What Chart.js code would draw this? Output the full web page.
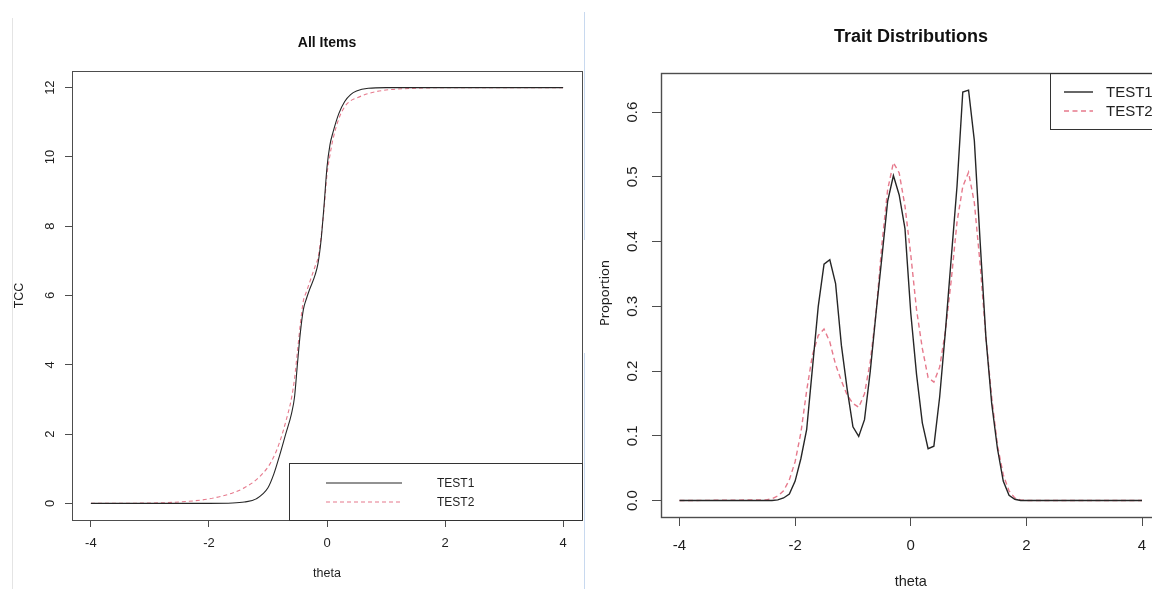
<!DOCTYPE html>
<html>
<head>
<meta charset="utf-8">
<script src="https://cdn.jsdelivr.net/npm/chart.js@4.4.0/dist/chart.umd.min.js"></script>
<style>
  html, body { margin: 0; padding: 0; background: #fff; width: 1152px; height: 589px; overflow: hidden; }
  .wrap { position: absolute; top: 0; }
  .edge { position: absolute; width: 1px; }
</style>
</head>
<body>
<div class="edge" style="left:12px;top:18px;height:571px;background:#e4e4e4"></div>
<div class="wrap" style="left:0;width:585px;height:589px"><canvas id="tcc" width="585" height="589"></canvas></div>
<div class="wrap" style="left:585px;width:600px;height:589px"><canvas id="trait" width="600" height="589"></canvas></div>
<div class="edge" style="left:584px;top:12px;height:228px;background:#c8d9ef"></div>
<div class="edge" style="left:584px;top:353px;height:236px;background:#c8d9ef"></div>
<script>
// ---- data ----
const seriesNames = ['TEST1', 'TEST2'];
const xTicks = [-4, -2, 0, 2, 4];
const tccTicks = [0, 2, 4, 6, 8, 10, 12];
const traitTicks = [0, 0.1, 0.2, 0.3, 0.4, 0.5, 0.6];

// left panel: test characteristic curves
const thetaTcc = [-4, -3, -2.5, -2, -1.6, -1.4, -1.2, -1.0, -0.9, -0.8, -0.7, -0.6, -0.55, -0.5, -0.45, -0.4, -0.35, -0.3,
  -0.2, -0.15, -0.1, -0.05, 0, 0.05, 0.1, 0.2, 0.3, 0.4, 0.5, 0.7, 1.0, 1.5, 2, 4];
const tcc1 = [0, 0, 0, 0, 0.01, 0.04, 0.13, 0.45, 0.85, 1.4, 2.0, 2.6, 3.07, 4.04, 4.95, 5.6, 5.9, 6.15,
  6.6, 6.95, 7.6, 8.6, 9.7, 10.35, 10.7, 11.25, 11.6, 11.8, 11.9, 11.98, 12, 12, 12, 12];
const tcc2 = [0, 0.01, 0.04, 0.13, 0.3, 0.45, 0.68, 1.05, 1.35, 1.78, 2.35, 3.05, 3.6, 4.4, 5.2, 5.85, 6.1, 6.35,
  6.85, 7.1, 7.7, 8.5, 9.5, 10.05, 10.5, 11.1, 11.45, 11.62, 11.7, 11.83, 11.93, 11.98, 12, 12];

// right panel: trait distributions
const thetaTrait = [-4, -2.5, -2.4, -2.3, -2.2, -2.1, -2.0, -1.9, -1.8, -1.7, -1.6, -1.5, -1.4, -1.3, -1.2, -1.1,
  -1.0, -0.9, -0.8, -0.7, -0.6, -0.5, -0.4, -0.3, -0.2, -0.1, 0.0, 0.1, 0.2, 0.3, 0.4, 0.5, 0.6, 0.7, 0.8, 0.9,
  1.0, 1.1, 1.2, 1.3, 1.4, 1.5, 1.6, 1.7, 1.8, 1.9, 2.0, 4];
const trait1 = [0, 0, 0, 0.001, 0.004, 0.010, 0.030, 0.065, 0.110, 0.205, 0.300, 0.365, 0.372, 0.335, 0.240, 0.172,
  0.114, 0.099, 0.125, 0.200, 0.290, 0.375, 0.462, 0.502, 0.472, 0.420, 0.290, 0.195, 0.120, 0.080, 0.084, 0.160,
  0.262, 0.374, 0.485, 0.631, 0.634, 0.556, 0.400, 0.252, 0.150, 0.080, 0.030, 0.008, 0.002, 0, 0, 0];
const trait2 = [0, 0.001, 0.003, 0.007, 0.015, 0.032, 0.060, 0.105, 0.170, 0.225, 0.255, 0.265, 0.245, 0.210, 0.185, 0.163,
  0.150, 0.144, 0.165, 0.215, 0.290, 0.395, 0.480, 0.522, 0.506, 0.455, 0.380, 0.295, 0.235, 0.190, 0.183, 0.206,
  0.262, 0.340, 0.430, 0.485, 0.507, 0.460, 0.365, 0.252, 0.160, 0.085, 0.040, 0.015, 0.004, 0.001, 0, 0];

const pts = (xs, ys) => xs.map((x, i) => ({ x: x, y: ys[i] }));
const FONT = '"Liberation Sans", Arial, sans-serif';
const RED = 'rgba(223, 83, 107, 0.78)';
const BLACK = '#262626';

// draws the R-style frame, rotated y labels, titles and legend
function rFrame(o) {
  return {
    id: 'rFrame',
    afterDraw(chart) {
      const { ctx, chartArea: a, scales: { x, y } } = chart;
      ctx.save();
      ctx.strokeStyle = '#4d4d4d';
      ctx.lineWidth = o.boxWidth;
      ctx.strokeRect(Math.round(a.left) + 0.5, Math.round(a.top) + 0.5, Math.round(a.right - a.left), Math.round(a.bottom - a.top));

      ctx.fillStyle = '#1e1e1e';
      ctx.textAlign = 'center';
      ctx.textBaseline = 'middle';
      ctx.font = o.tickSize + 'px ' + FONT;
      xTicks.forEach(v => ctx.fillText(String(v), x.getPixelForValue(v), o.xLabelY));
      o.yTicks.forEach(v => {
        ctx.save();
        ctx.translate(o.yLabelX, y.getPixelForValue(v));
        ctx.rotate(-Math.PI / 2);
        ctx.fillText(o.fmt(v), 0, 0);
        ctx.restore();
      });

      // axis titles
      ctx.font = o.xTitleSize + 'px ' + FONT;
      ctx.fillText('theta', (a.left + a.right) / 2, o.xTitleY);
      ctx.save();
      ctx.font = o.yTitleFont;
      ctx.translate(o.yTitleX, o.yTitleY);
      ctx.rotate(-Math.PI / 2);
      ctx.fillText(o.yTitle, 0, 0);
      ctx.restore();

      // main title
      ctx.font = 'bold ' + o.titleSize + 'px ' + FONT;
      ctx.fillStyle = '#111';
      ctx.fillText(o.title, o.titleX, o.titleY);

      // legend
      const L = o.legend;
      ctx.strokeStyle = '#333';
      ctx.lineWidth = 1;
      ctx.strokeRect(L.box[0] + 0.5, L.box[1] + 0.5, L.box[2] - L.box[0], L.box[3] - L.box[1]);
      ctx.textAlign = 'left';
      ctx.font = L.size + 'px ' + FONT;
      seriesNames.forEach((name, i) => {
        const ly = L.rows[i];
        ctx.beginPath();
        ctx.strokeStyle = i === 0 ? BLACK : RED;
        ctx.lineWidth = o.lineWidth;
        ctx.setLineDash(i === 0 ? [] : o.dash);
        ctx.moveTo(L.line[0], ly);
        ctx.lineTo(L.line[1], ly);
        ctx.stroke();
        ctx.setLineDash([]);
        ctx.fillStyle = '#222';
        ctx.fillText(name, L.textX, ly + 0.5);
      });
      ctx.restore();
    }
  };
}

function panel(id, o) {
  const axisGrid = { drawOnChartArea: false, drawTicks: true, tickLength: o.tickLen, color: '#4d4d4d', tickColor: '#4d4d4d', lineWidth: 1 };
  return new Chart(document.getElementById(id), {
    type: 'line',
    data: {
      datasets: [
        { label: seriesNames[0], data: pts(o.xs, o.s1), borderColor: BLACK, borderWidth: o.lineWidth,
          pointRadius: 0, fill: false, tension: 0, cubicInterpolationMode: o.mode },
        { label: seriesNames[1], data: pts(o.xs, o.s2), borderColor: RED, borderWidth: o.lineWidth,
          borderDash: o.dash, pointRadius: 0, fill: false, tension: 0, cubicInterpolationMode: o.mode }
      ]
    },
    options: {
      responsive: false,
      animation: false,
      devicePixelRatio: 1,
      events: [],
      layout: { padding: o.padding },
      plugins: { legend: { display: false }, tooltip: { enabled: false }, title: { display: false } },
      scales: {
        x: {
          type: 'linear', min: -4.32, max: 4.32,
          afterBuildTicks: s => { s.ticks = xTicks.map(v => ({ value: v })); },
          afterFit: s => { s.height = o.xAxisHeight; },
          grid: axisGrid, border: { display: false }, ticks: { display: false }
        },
        y: {
          type: 'linear', min: o.yMin, max: o.yMax,
          afterBuildTicks: s => { s.ticks = o.yTicks.map(v => ({ value: v })); },
          afterFit: s => { s.width = o.yAxisWidth; },
          grid: axisGrid, border: { display: false }, ticks: { display: false }
        }
      }
    },
    plugins: [rFrame(o)]
  });
}

panel('tcc', {
  xs: thetaTcc, s1: tcc1, s2: tcc2, mode: 'monotone',
  yMin: -0.48, yMax: 12.48, yTicks: tccTicks, fmt: v => String(v),
  padding: { top: 71, right: 3, left: 0, bottom: 0 }, xAxisHeight: 69, yAxisWidth: 72,
  tickLen: 7, boxWidth: 1, lineWidth: 1.1, dash: [4, 3],
  tickSize: 13, xLabelY: 543, yLabelX: 50,
  xTitleSize: 12.5, xTitleY: 574,
  yTitle: 'TCC', yTitleFont: '12.5px ' + FONT, yTitleX: 20, yTitleY: 295.5,
  title: 'All Items', titleSize: 14, titleX: 327, titleY: 43,
  legend: { box: [289, 463, 582, 520], line: [326, 402], rows: [483, 502], textX: 437, size: 12 }
});

panel('trait', {
  xs: thetaTrait, s1: trait1, s2: trait2, mode: 'default',
  yMin: -0.0254, yMax: 0.6604, yTicks: traitTicks, fmt: v => v.toFixed(1),
  padding: { top: 73, right: 24.5, left: 0, bottom: 0 }, xAxisHeight: 72, yAxisWidth: 76,
  tickLen: 9, boxWidth: 1.4, lineWidth: 1.4, dash: [5, 3.5],
  tickSize: 15, xLabelY: 546, yLabelX: 48,
  xTitleSize: 14.5, xTitleY: 582,
  yTitle: 'Proportion', yTitleFont: '13px "Noto Sans", sans-serif', yTitleX: 20, yTitleY: 293,
  title: 'Trait Distributions', titleSize: 18, titleX: 326, titleY: 37,
  legend: { box: [465, 73, 640, 129], line: [479, 508], rows: [92, 111], textX: 521, size: 15 }
});
</script>
</body>
</html>
